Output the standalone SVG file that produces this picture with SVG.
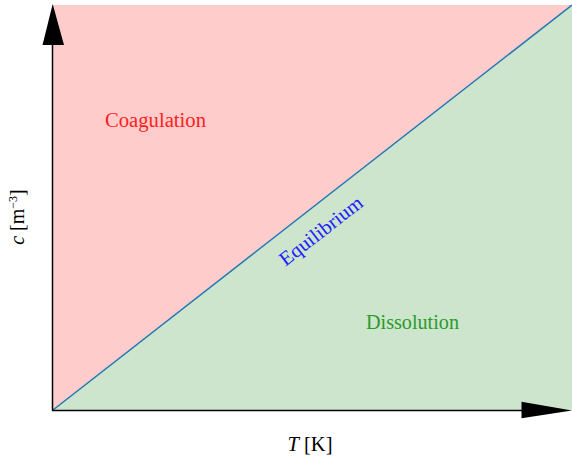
<svg xmlns="http://www.w3.org/2000/svg" width="572" height="461" viewBox="0 0 572 461">
<style>
.lbl{font-family:"Liberation Serif","DejaVu Serif",serif;font-size:20px;text-anchor:middle}
.ax{font-family:"Liberation Serif","DejaVu Serif",serif;font-size:20px;text-anchor:middle;fill:#000}
</style>
<rect width="572" height="461" fill="#fff"/>
<g id="coagulation-region"><polygon points="53,5 572,5 53,410" fill="#ffcccc"/></g>
<g id="dissolution-region"><polygon points="53,410 572,5 572,410" fill="#cce5cc"/></g>
<g id="connectors">
<line x1="53" y1="410" x2="572" y2="5" stroke="#1f77b4" stroke-width="1.5"/>
<line x1="52.5" y1="410.5" x2="52.5" y2="40" stroke="#000" stroke-width="1.5"/>
<line x1="52" y1="410.5" x2="525" y2="410.5" stroke="#000" stroke-width="1.5"/>
<polygon points="52.7,4 42.5,45 64,45" fill="#000"/>
<polygon points="572,410.5 521.5,401.7 521.5,418.3" fill="#000"/>
</g>
<g id="coagulation"><text class="lbl" x="155.5" y="127" fill="#ff2020" textLength="101" lengthAdjust="spacingAndGlyphs">Coagulation</text></g>
<g id="dissolution"><text class="lbl" x="412.5" y="329" fill="#2a9a2a" textLength="93" lengthAdjust="spacingAndGlyphs">Dissolution</text></g>
<g id="equilibrium"><text class="lbl" transform="translate(325,236) rotate(-37.9)" x="0" y="0" fill="#2020ff" textLength="100" lengthAdjust="spacingAndGlyphs">Equilibrium</text></g>
<g id="x-label"><text class="ax" x="310" y="451" textLength="45" lengthAdjust="spacingAndGlyphs"><tspan font-style="italic">T</tspan> [K]</text></g>
<g id="y-label"><text class="ax" transform="translate(24,217) rotate(-90)"><tspan font-style="italic">c</tspan> [m<tspan font-size="12" dy="-7">−3</tspan><tspan dy="7">]</tspan></text></g>
</svg>
